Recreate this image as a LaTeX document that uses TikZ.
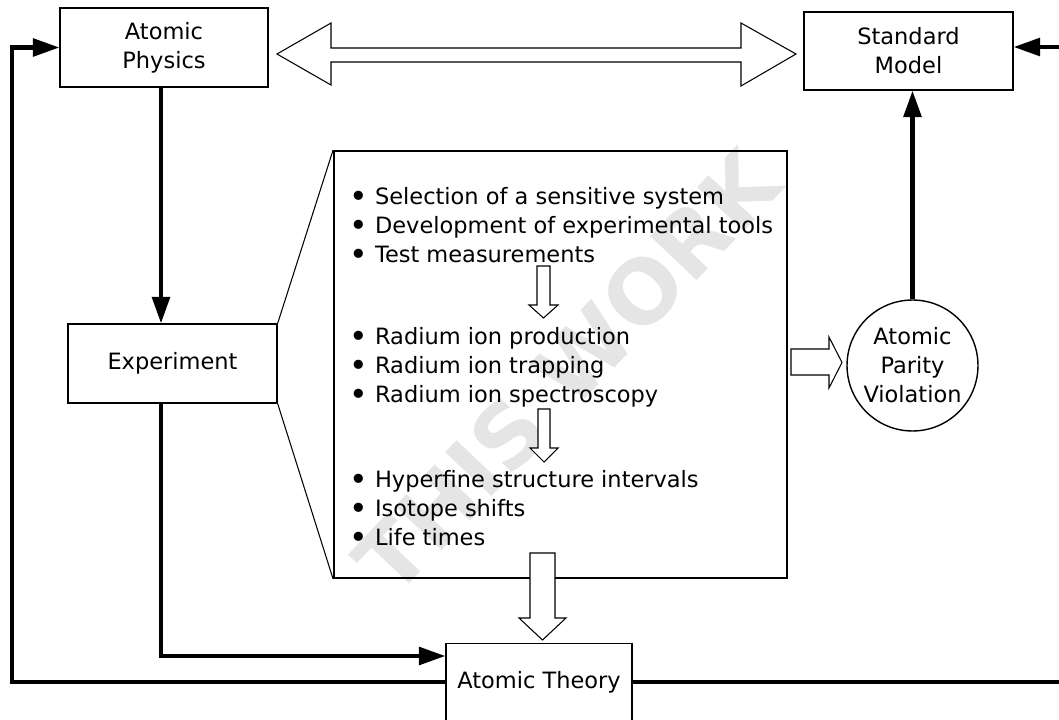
\documentclass[tikz,border=0pt]{standalone}
\usepackage{fontspec}
\setmainfont{DejaVu Sans}
\usetikzlibrary{arrows.meta, positioning}

\tikzset{
  block/.style={draw, line width=0.8pt, align=center, inner sep=0pt},
  flow/.style={line width=2.3pt, -{Triangle[length=15pt, width=10pt]}},
  hollow/.style={draw, fill=white, line width=0.6pt, line join=miter},
  item/.style={anchor=base west, inner sep=0pt},
}
\newcommand{\bigbullet}{\raisebox{-0.16em}{\scalebox{1.4}{\textbullet}}}

\begin{document}
\begin{tikzpicture}[x=0.02cm, y=-0.02cm, font=\fontsize{12.8pt}{16.5pt}\selectfont]
        \useasboundingbox (0,0) rectangle (1059,720);
        \clip (0,0) rectangle (1059,720);

        % Watermark behind everything
        \node[rotate=46.5, text=black!10, font=\fontsize{50pt}{50pt}\selectfont\bfseries] (mark) at (567,372) {THIS WORK};

        % Main blocks
        \node[block, minimum width=4.16cm, minimum height=1.58cm] (phys) at (164,47.5) {Atomic\\Physics};
        \node[block, minimum width=4.18cm, minimum height=1.56cm] (stdmodel) at (908.5,51) {Standard\\Model};
        \node[block, minimum width=4.18cm, minimum height=1.58cm] (expt) at (172.5,363.5) {Experiment};
        \node[block, minimum width=3.72cm, minimum height=1.54cm] (theory) at (539,682) {Atomic Theory};
        \node[block, circle, minimum size=2.62cm] (apv) at (912.5,365.5) {Atomic\\Parity\\Violation};

        % Zoom box with the experimental steps
        \node[draw, line width=1.1pt, minimum width=9.06cm, minimum height=8.54cm, inner sep=0pt] (tasks) at (560.5,364.5) {};
        \draw[line width=0.6pt] (expt.north east) -- (tasks.north west);
        \draw[line width=0.6pt] (expt.south east) -- (tasks.south west);

        \foreach \txt [count=\i] in {Selection of a sensitive system, Development of experimental tools, Test measurements}
          \node[item] (prep-\i) at (349,175+29*\i) {\bigbullet\ \txt};
        \foreach \txt [count=\i] in {Radium ion production, Radium ion trapping, Radium ion spectroscopy}
          \node[item] (ion-\i) at (349,315+29*\i) {\bigbullet\ \txt};
        \foreach \txt [count=\i] in {Hyperfine structure intervals, Isotope shifts, Life times}
          \node[item] (res-\i) at (349,458+29*\i) {\bigbullet\ \txt};

        % Hollow arrows
        \draw[hollow] (277,54) -- (331,23) -- (331,48) -- (741,48) -- (741,23) -- (796,54)
          -- (741,86) -- (741,62) -- (331,62) -- (331,85) -- cycle;
        \draw[hollow] (537,266) -- (550,266) -- (550,305) -- (558,305) -- (543.5,318)
          -- (529,305) -- (537,305) -- cycle;
        \draw[hollow] (538,409) -- (550,409) -- (550,448) -- (558,448) -- (544,462)
          -- (530,448) -- (538,448) -- cycle;
        \draw[hollow] (530,553) -- (555,553) -- (555,618) -- (566,618) -- (542.5,640)
          -- (519,618) -- (530,618) -- cycle;
        \draw[hollow] (791,349) -- (829,349) -- (829,337) -- (842,362.5) -- (829,388)
          -- (829,375) -- (791,375) -- cycle;

        % Thick connectors
        \coordinate (bend) at (161,656);
        \coordinate (loopL) at (12,0);
        \coordinate (loopR) at (1075,0);
        \draw[flow] (phys.south -| bend) -- (expt.north -| bend);
        \draw[flow] (expt.south -| bend) -- (bend) -- (bend -| theory.west);
        \draw[flow] (apv.north) -- (apv.north |- stdmodel.south);
        \draw[flow] (theory.west) -- (theory.west -| loopL) -- (phys.west -| loopL) -- (phys.west);
        \draw[flow] (theory.east) -- (theory.east -| loopR) -- ([yshift=0.08cm]stdmodel.east -| loopR) -- ([yshift=0.08cm]stdmodel.east);
    \end{tikzpicture}
\end{document}
